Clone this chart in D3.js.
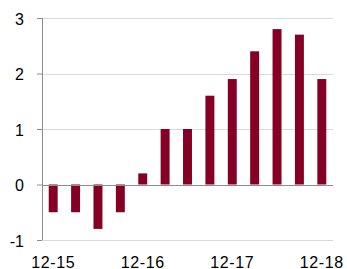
<!DOCTYPE html>
<html>
<head>
<meta charset="utf-8">
<script src="https://cdn.jsdelivr.net/npm/d3@7"></script>
<style>
  body { margin: 0; background: #fff; }
  text { font-family: "Liberation Sans", Arial, sans-serif; }
</style>
</head>
<body>
<div id="chart"></div>
<script>
// Quarterly values
const quarters = ["12-15", "03-16", "06-16", "09-16", "12-16", "03-17", "06-17",
                  "09-17", "12-17", "03-18", "06-18", "09-18", "12-18"];
const values = [-0.5, -0.5, -0.8, -0.5, 0.2, 1.0, 1.0, 1.6, 1.9, 2.4, 2.8, 2.7, 1.9];
const xLabels = ["12-15", "12-16", "12-17", "12-18"];
const yTicks = [-1, 0, 1, 2, 3];

const margin = { top: 18, right: 14, bottom: 29, left: 42 },
      width  = 347 - margin.left - margin.right,
      height = 269 - margin.top - margin.bottom;

const svg = d3.select("#chart")
  .append("svg")
  .attr("width", width + margin.left + margin.right)
  .attr("height", height + margin.top + margin.bottom)
  .append("g")
  .attr("transform", `translate(${margin.left}, ${margin.top})`);

const x = d3.scaleBand()
  .domain(quarters)
  .range([0, width])
  .paddingInner(0.6)
  .paddingOuter(0.3);

const y = d3.scaleLinear()
  .domain([-1, 3])
  .range([height, 0]);

// gridlines
svg.append("g")
  .selectAll("line")
  .data(yTicks.filter(d => d !== 0))
  .enter()
  .append("line")
  .attr("x1", 0)
  .attr("x2", width)
  .attr("y1", d => Math.round(y(d)) + 0.5)
  .attr("y2", d => Math.round(y(d)) + 0.5)
  .attr("stroke", "#d9d9d9")
  .attr("stroke-width", 1);

// bars
svg.selectAll(".bar")
  .data(values)
  .enter()
  .append("rect")
  .attr("class", "bar")
  .attr("x", (d, i) => x(quarters[i]))
  .attr("y", d => y(Math.max(0, d)))
  .attr("width", x.bandwidth())
  .attr("height", d => Math.abs(y(d) - y(0)))
  .attr("fill", "#850024");

// zero line
svg.append("line")
  .attr("x1", 0)
  .attr("x2", width)
  .attr("y1", Math.round(y(0)) + 0.5)
  .attr("y2", Math.round(y(0)) + 0.5)
  .attr("stroke", "#8c8c8c")
  .attr("stroke-width", 1);

// y axis
const yAxis = svg.append("g")
  .call(d3.axisLeft(y).tickValues(yTicks).tickSize(5).tickPadding(13).tickFormat(d => String(d)));
yAxis.select(".domain").attr("stroke", "#8c8c8c").attr("d", `M0.5,${y(-1)}V${y(3)}`);
yAxis.selectAll(".tick line").attr("stroke", "#8c8c8c");
yAxis.selectAll("text")
  .style("font-size", "16px")
  .attr("dy", "0.4em")
  .attr("fill", "#000");

// x labels
svg.append("g")
  .selectAll("text")
  .data(xLabels)
  .enter()
  .append("text")
  .attr("x", d => x(d) + x.bandwidth() / 2)
  .attr("y", height + 28)
  .attr("text-anchor", "middle")
  .style("font-size", "16px")
  .style("letter-spacing", "0.6px")
  .attr("fill", "#000")
  .text(d => d);
</script>
</body>
</html>
